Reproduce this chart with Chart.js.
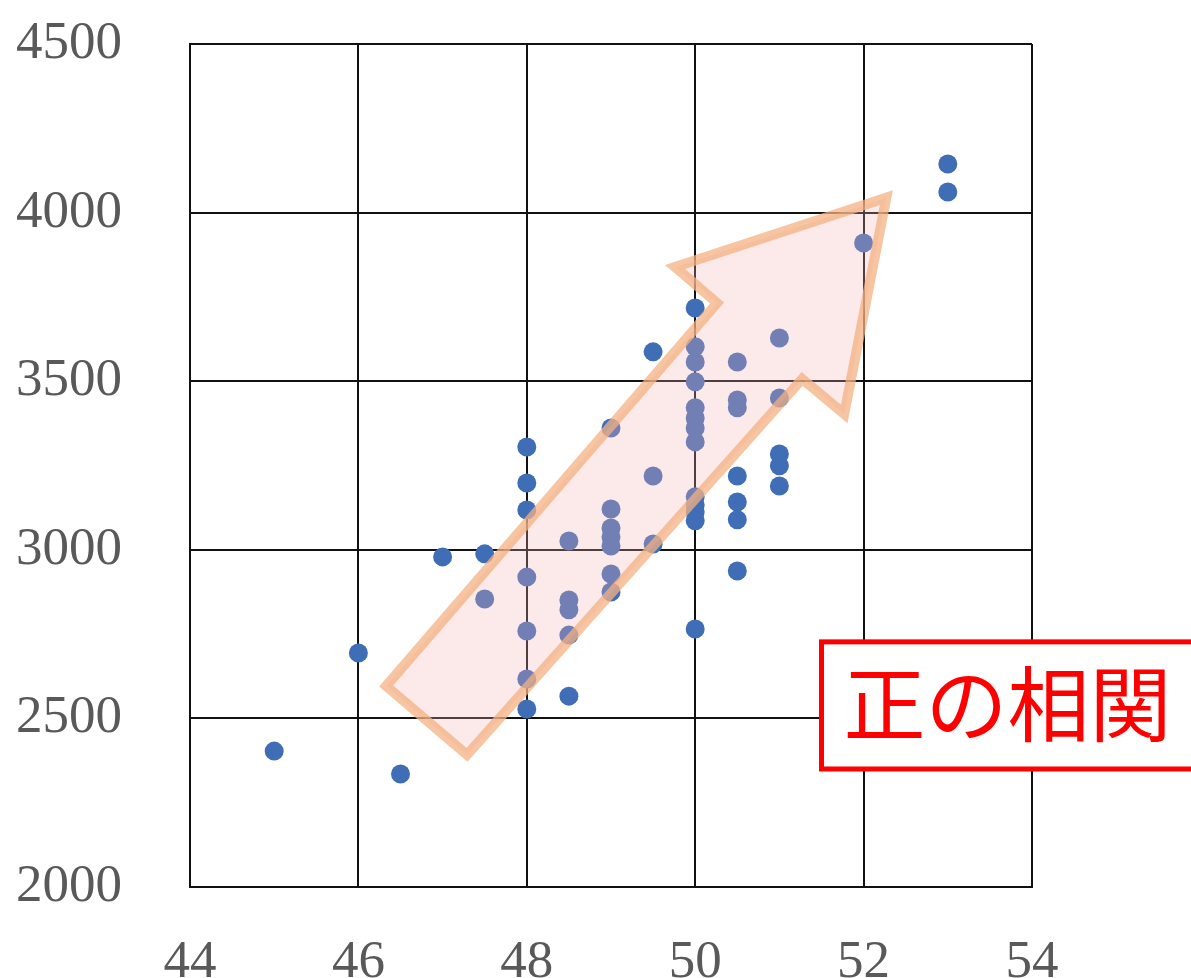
<!DOCTYPE html>
<html>
<head>
<meta charset="utf-8">
<script src="https://cdn.jsdelivr.net/npm/chart.js@4.4.0/dist/chart.umd.min.js"></script>
<style>
  html, body { margin: 0; padding: 0; background: #fff; }
</style>
</head>
<body>
<canvas id="chart" width="1191" height="978"></canvas>
<script>
// 身長(横) と 体重(縦)
const lengths = [
  45, 46, 46.5, 47, 47.5, 47.5,
  48, 48, 48, 48, 48, 48, 48,
  48.5, 48.5, 48.5, 48.5, 48.5,
  49, 49, 49, 49, 49, 49, 49,
  49.5, 49.5, 49.5,
  50, 50, 50, 50, 50, 50, 50, 50, 50, 50, 50, 50, 50,
  50.5, 50.5, 50.5, 50.5, 50.5, 50.5, 50.5,
  51, 51, 51, 51, 51,
  52, 53, 53
];
const weights = [
  2403, 2694, 2335, 2979, 2988, 2854,
  3305, 3198, 3118, 2919, 2759, 2617, 2528,
  3026, 2851, 2822, 2747, 2566,
  3361, 3121, 3065, 3038, 3011, 2928, 2875,
  3587, 3219, 3017,
  3717, 3602, 3557, 3498, 3421, 3391, 3361, 3320, 3157, 3133, 3112, 3086, 2765,
  3557, 3444, 3421, 3219, 3142, 3089, 2937,
  3628, 3450, 3284, 3249, 3189,
  3910, 4144, 4061
];

const xTicks = [44, 46, 48, 50, 52, 54];
const yTicks = [2000, 2500, 3000, 3500, 4000, 4500];

// 矢印 (データ座標)
const arrowShape = [
  [46.33, 2596], [47.29, 2392], [51.27, 3507], [51.77, 3403],
  [52.27, 4044], [49.76, 3839], [50.26, 3732]
];
const labelText = "正の相関";

const overlay = {
  id: "overlay",
  afterDatasetsDraw(chart) {
    const { ctx, scales: { x, y } } = chart;
    ctx.save();
    ctx.beginPath();
    arrowShape.forEach(([vx, vy], i) => {
      const px = x.getPixelForValue(vx);
      const py = y.getPixelForValue(vy);
      if (i === 0) ctx.moveTo(px, py);
      else ctx.lineTo(px, py);
    });
    ctx.closePath();
    ctx.fillStyle = "rgba(245,175,180,0.28)";
    ctx.fill();
    ctx.lineWidth = 10;
    ctx.lineJoin = "miter";
    ctx.strokeStyle = "rgba(244,177,131,0.75)";
    ctx.stroke();

    // ラベルの枠
    const left = x.getPixelForValue(51.5);
    const top = y.getPixelForValue(2727);
    const bottom = y.getPixelForValue(2350);
    const right = chart.width + 10;
    ctx.fillStyle = "#fff";
    ctx.fillRect(left, top, right - left, bottom - top);
    ctx.lineWidth = 5;
    ctx.strokeStyle = "#ff0000";
    ctx.strokeRect(left, top, right - left, bottom - top);
    ctx.fillStyle = "#ff0000";
    ctx.font = '82px "Noto Sans CJK JP"';
    ctx.textAlign = "left";
    ctx.textBaseline = "middle";
    ctx.fillText(labelText, left + 22, (top + bottom) / 2 - 2);
    ctx.restore();
  }
};

const tickFont = { family: "Liberation Serif", size: 53 };

new Chart(document.getElementById("chart"), {
  type: "scatter",
  data: {
    datasets: [{
      data: lengths.map((v, i) => ({ x: v, y: weights[i] })),
      backgroundColor: "#3f6db6",
      borderWidth: 0,
      pointRadius: 9.5,
      pointHoverRadius: 9.5
    }]
  },
  options: {
    responsive: false,
    animation: false,
    layout: { padding: { left: 0, top: 44, right: 159, bottom: 0 } },
    plugins: { legend: { display: false }, tooltip: { enabled: false } },
    scales: {
      x: {
        type: "linear",
        min: xTicks[0],
        max: xTicks[xTicks.length - 1],
        afterBuildTicks: (s) => { s.ticks = xTicks.map((v) => ({ value: v })); },
        afterFit: (s) => { s.height = 91; s.paddingLeft = 0; s.paddingRight = 0; },
        grid: { color: "#111", lineWidth: 2, drawTicks: false },
        border: { color: "#111", width: 2 },
        ticks: { font: tickFont, color: "#595959", padding: 44, callback: (v) => String(v) }
      },
      y: {
        type: "linear",
        min: yTicks[0],
        max: yTicks[yTicks.length - 1],
        afterBuildTicks: (s) => { s.ticks = yTicks.map((v) => ({ value: v })); },
        afterFit: (s) => { s.width = 190; s.paddingTop = 0; s.paddingBottom = 0; },
        grid: { color: "#111", lineWidth: 2, drawTicks: false },
        border: { color: "#111", width: 2 },
        ticks: { font: tickFont, color: "#595959", padding: 68, callback: (v) => String(v) }
      }
    }
  },
  plugins: [overlay]
});
</script>
</body>
</html>
